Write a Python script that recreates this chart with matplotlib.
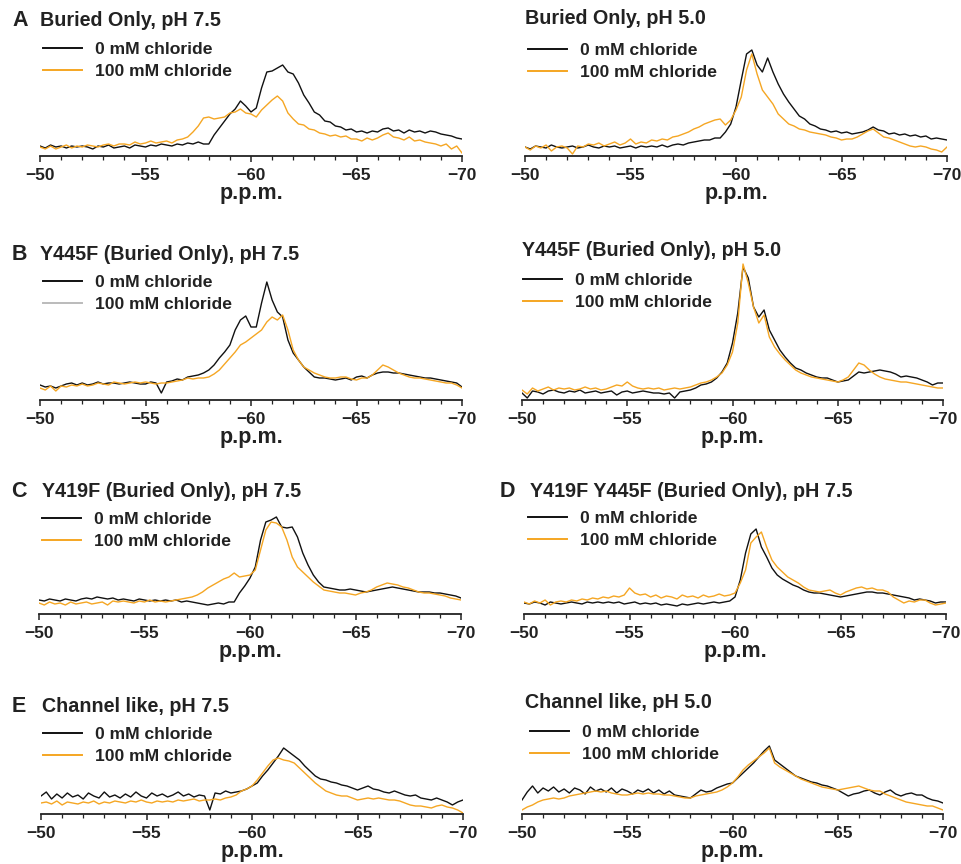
import numpy as np
import matplotlib
matplotlib.use("Agg")
import matplotlib.pyplot as plt
from matplotlib.lines import Line2D

plt.rcParams["font.family"] = ["Liberation Sans", "DejaVu Sans"]
plt.rcParams["font.weight"] = "bold"

# chemical shift grid (p.p.m.), 0.25 ppm steps from -50 to -70
ppm = np.linspace(-50, -70, 81)

# intensities (arbitrary units)
a75_0 = [10, 8, 11, 9, 10, 8, 10, 9,
         10, 9, 7, 10, 9, 11, 8, 9,
         10, 8, 11, 10, 9, 11, 10, 12,
         11, 10, 12, 11, 13, 12, 14, 12,
         12, 21, 28, 35, 42, 47, 55, 50,
         44, 48, 68, 84, 85, 88, 91, 84,
         82, 73, 61, 53, 44, 41, 35, 34,
         30, 29, 26, 27, 24, 25, 23, 25,
         24, 27, 28, 25, 26, 23, 26, 24,
         25, 23, 25, 24, 22, 21, 20, 18, 17]
a75_100 = [9, 7, 10, 7, 9, 11, 8, 10,
           9, 11, 10, 9, 11, 12, 10, 12,
           12, 11, 14, 12, 13, 15, 13, 14,
           15, 13, 16, 17, 19, 24, 30, 38,
           39, 37, 38, 39, 43, 44, 47, 43,
           42, 39, 46, 51, 56, 60, 55, 43,
           37, 32, 31, 27, 26, 23, 22, 20,
           21, 19, 20, 17, 17, 15, 18, 16,
           18, 21, 23, 19, 18, 16, 19, 15,
           16, 14, 13, 12, 10, 12, 7, 10, 3]

a50_0 = [9, 7, 10, 9, 8, 11, 9, 8,
         9, 10, 8, 9, 11, 9, 8, 10,
         9, 10, 8, 9, 10, 8, 10, 9,
         10, 9, 11, 9, 11, 12, 11, 13,
         14, 15, 16, 16, 18, 18, 24, 32,
         49, 76, 102, 106, 91, 84, 98, 84,
         72, 62, 54, 47, 40, 37, 32, 30,
         27, 26, 24, 25, 23, 24, 22, 23,
         24, 26, 29, 26, 25, 22, 23, 21,
         22, 20, 21, 19, 20, 17, 18, 17, 16]
a50_100 = [9, 6, 10, 8, 11, 5, 9, 10,
           8, 2, 10, 9, 12, 11, 13, 10,
           12, 14, 11, 13, 17, 12, 14, 13,
           16, 15, 17, 16, 19, 20, 22, 24,
           27, 29, 32, 34, 36, 37, 31, 36,
           46, 59, 86, 102, 82, 66, 59, 52,
           42, 37, 32, 30, 27, 26, 24, 23,
           22, 21, 19, 18, 16, 17, 17, 19,
           22, 25, 27, 23, 19, 18, 16, 14,
           12, 10, 9, 10, 9, 7, 6, 4, 9]

b75_0 = [15, 13, 14, 12, 14, 16, 17, 15,
         17, 15, 16, 18, 16, 17, 17, 16,
         17, 18, 17, 16, 16, 18, 17, 7,
         18, 19, 21, 20, 23, 24, 25, 27,
         30, 35, 42, 48, 55, 70, 80, 84,
         73, 73, 97, 118, 100, 88, 83, 60,
         47, 40, 33, 28, 23, 22, 22, 21,
         20, 21, 22, 20, 23, 24, 22, 25,
         27, 28, 28, 27, 27, 26, 25, 24,
         23, 22, 22, 21, 20, 19, 18, 17, 13]
b75_100 = [12, 10, 14, 9, 14, 13, 15, 14,
           16, 14, 15, 17, 16, 15, 18, 17,
           16, 17, 18, 17, 18, 17, 16, 17,
           17, 18, 19, 20, 22, 21, 22, 22,
           23, 26, 30, 36, 42, 48, 55, 58,
           62, 66, 70, 78, 83, 80, 85, 70,
           50, 40, 33, 30, 27, 25, 23, 22,
           22, 23, 23, 21, 20, 22, 22, 25,
           30, 35, 33, 30, 27, 25, 23, 22,
           22, 21, 20, 19, 18, 17, 17, 15, 12]

b50_0 = [7, 2, 9, 8, 6, 9, 10, 8,
         7, 9, 8, 10, 7, 8, 9, 7,
         8, 9, 5, 8, 9, 7, 8, 9,
         8, 7, 7, 6, 7, 2, 8, 9,
         10, 12, 15, 16, 18, 22, 28, 37,
         57, 87, 133, 122, 93, 83, 90, 70,
         60, 50, 43, 37, 32, 30, 27, 25,
         23, 22, 22, 20, 18, 19, 20, 24,
         28, 27, 28, 29, 30, 29, 28, 26,
         23, 24, 23, 22, 20, 18, 15, 17, 17]
b50_100 = [10, 6, 12, 9, 11, 13, 10, 12,
           11, 12, 10, 11, 13, 11, 12, 10,
           11, 13, 15, 14, 18, 14, 12, 11,
           12, 11, 12, 10, 11, 12, 11, 12,
           13, 15, 17, 18, 20, 23, 27, 35,
           48, 77, 136, 117, 93, 77, 85, 63,
           53, 46, 40, 35, 30, 27, 25, 23,
           22, 21, 20, 19, 18, 20, 23, 30,
           37, 35, 30, 26, 23, 21, 20, 19,
           18, 18, 17, 16, 15, 14, 13, 12, 12]

c75_0 = [14, 13, 15, 14, 13, 15, 14, 13,
         15, 16, 15, 17, 16, 15, 16, 14,
         15, 14, 13, 15, 14, 13, 14, 13,
         14, 13, 14, 12, 13, 12, 11, 10,
         9, 10, 11, 10, 12, 12, 21, 28,
         36, 47, 74, 92, 94, 97, 87, 86,
         87, 77, 61, 49, 39, 32, 27, 26,
         25, 24, 24, 25, 24, 23, 22, 23,
         24, 25, 26, 27, 26, 25, 24, 23,
         22, 22, 22, 21, 21, 20, 19, 18, 16]
c75_100 = [11, 9, 12, 10, 11, 9, 12, 10,
           11, 12, 10, 11, 12, 9, 13, 12,
           13, 12, 11, 13, 12, 14, 12, 13,
           12, 13, 14, 15, 16, 17, 19, 22,
           26, 29, 32, 35, 37, 41, 37, 38,
           39, 44, 64, 84, 92, 91, 87, 74,
           57, 47, 42, 37, 32, 28, 24, 23,
           22, 21, 21, 20, 19, 21, 22, 24,
           27, 29, 31, 30, 29, 27, 26, 24,
           22, 21, 21, 20, 19, 18, 16, 15, 14]

d75_0 = [11, 10, 12, 11, 9, 12, 11, 10,
         11, 12, 11, 10, 12, 11, 12, 11,
         12, 11, 12, 10, 11, 12, 10, 11,
         10, 11, 9, 10, 9, 8, 10, 9,
         10, 11, 10, 11, 12, 11, 12, 13,
         17, 34, 61, 80, 85, 67, 57, 46,
         39, 35, 32, 29, 27, 24, 22, 21,
         21, 20, 19, 18, 17, 18, 19, 20,
         21, 22, 22, 21, 21, 20, 19, 18,
         17, 16, 14, 15, 14, 13, 11, 12, 12]
d75_100 = [12, 10, 13, 11, 14, 9, 12, 13,
           12, 14, 13, 15, 14, 16, 15, 17,
           16, 18, 17, 19, 26, 21, 19, 20,
           17, 19, 16, 18, 17, 15, 19, 17,
           18, 16, 19, 17, 18, 20, 18, 19,
           21, 31, 44, 71, 77, 82, 67, 54,
           47, 42, 37, 34, 31, 27, 24, 23,
           22, 23, 24, 21, 19, 22, 24, 26,
           27, 25, 26, 24, 24, 22, 17, 14,
           11, 13, 12, 14, 14, 11, 9, 10, 11]

e75_0 = [18, 22, 15, 20, 16, 21, 17, 19,
         15, 21, 18, 16, 22, 17, 19, 16,
         20, 17, 22, 18, 16, 21, 18, 20,
         17, 19, 22, 18, 20, 17, 19, 18,
         4, 21, 20, 23, 21, 22, 23, 25,
         28, 31, 38, 44, 51, 58, 66, 62,
         58, 54, 48, 43, 38, 35, 34, 32,
         31, 29, 28, 26, 24, 26, 28, 25,
         24, 22, 21, 23, 21, 19, 18, 19,
         16, 15, 14, 16, 14, 12, 9, 12, 14]
e75_100 = [11, 12, 10, 13, 9, 12, 11, 10,
           12, 11, 13, 10, 12, 11, 13, 12,
           11, 13, 12, 14, 12, 11, 13, 12,
           13, 12, 14, 13, 14, 15, 13, 14,
           14, 15, 14, 16, 17, 19, 23, 25,
           28, 34, 41, 48, 54, 56, 54, 53,
           51, 46, 41, 36, 31, 27, 23, 21,
           19, 18, 18, 16, 14, 15, 16, 15,
           16, 15, 14, 14, 13, 11, 9, 8,
           8, 7, 6, 8, 9, 7, 6, 4, 1]

e50_0 = [14, 22, 28, 21, 26, 23, 27, 22,
         25, 21, 26, 24, 20, 27, 23, 25,
         22, 26, 21, 25, 23, 20, 24, 22,
         25, 21, 24, 20, 23, 19, 18, 17,
         16, 20, 24, 22, 23, 26, 28, 30,
         31, 36, 41, 46, 51, 57, 63, 68,
         54, 50, 46, 42, 38, 36, 34, 32,
         31, 29, 28, 26, 24, 21, 18, 20,
         21, 23, 24, 21, 19, 22, 24, 20,
         18, 20, 21, 19, 19, 16, 14, 13, 11]
e50_100 = [4, 7, 9, 12, 14, 15, 16, 15,
           16, 18, 19, 20, 21, 22, 23, 22,
           23, 21, 20, 19, 19, 20, 21, 20,
           21, 20, 20, 19, 19, 18, 17, 16,
           16, 18, 19, 20, 21, 22, 24, 27,
           31, 37, 44, 49, 53, 57, 61, 66,
           51, 47, 44, 41, 38, 35, 33, 31,
           29, 27, 26, 25, 24, 25, 26, 27,
           28, 26, 24, 23, 23, 20, 18, 16,
           14, 12, 11, 10, 9, 8, 8, 6, 4]

letters = ["A", "", "B", "", "C", "D", "E", ""]
titles = ["Buried Only, pH 7.5", "Buried Only, pH 5.0",
          "Y445F (Buried Only), pH 7.5", "Y445F (Buried Only), pH 5.0",
          "Y419F (Buried Only), pH 7.5", "Y419F Y445F (Buried Only), pH 7.5",
          "Channel like, pH 7.5", "Channel like, pH 5.0"]
series_0 = [a75_0, a50_0, b75_0, b50_0, c75_0, d75_0, e75_0, e50_0]
series_100 = [a75_100, a50_100, b75_100, b50_100, c75_100, d75_100, e75_100, e50_100]
legend_labels = ["0 mM chloride", "100 mM chloride"]

BLACK = "#111111"
ORANGE = "#F5A623"
TEXT = "#222222"

W, H = 961, 864
fig = plt.figure(figsize=(W / 100, H / 100), dpi=100)

# layout in pixels: axis x-range, axis line y, title y, legend x, legend first row y
layout = [
    dict(x0=40, x1=462, ya=156, ty=20, lx=43, ly=50, letx=12, tx=40),
    dict(x0=525, x1=947, ya=156, ty=18, lx=528, ly=51, letx=None, tx=525),
    dict(x0=40, x1=462, ya=400, ty=255, lx=43, ly=283, letx=12, tx=40),
    dict(x0=522, x1=943, ya=400, ty=251, lx=523, ly=281, letx=None, tx=522),
    dict(x0=39, x1=461, ya=614, ty=491, lx=42, ly=520, letx=11, tx=42),
    dict(x0=524, x1=946, ya=614, ty=491, lx=528, ly=519, letx=500, tx=530),
    dict(x0=41, x1=463, ya=814, ty=706, lx=43, ly=735, letx=12, tx=42),
    dict(x0=522, x1=943, ya=814, ty=703, lx=530, ly=733, letx=None, tx=525),
]

AX_H = 140
for k, lay in enumerate(layout):
    ax = fig.add_axes([lay["x0"] / W, (H - lay["ya"]) / H,
                       (lay["x1"] - lay["x0"]) / W, AX_H / H])
    ax.plot(ppm, series_0[k], color=BLACK, lw=1.0)
    ax.plot(ppm, series_100[k], color=ORANGE, lw=1.0)
    ax.set_xlim(-50, -70)
    ax.set_ylim(0, AX_H)
    for s in ["top", "left", "right"]:
        ax.spines[s].set_visible(False)
    ax.spines["bottom"].set_linewidth(1.3)
    ax.spines["bottom"].set_color(TEXT)
    ax.set_yticks([])
    ax.set_xticks([-50, -55, -60, -65, -70])
    ax.set_xticks(np.arange(-50, -71, -1), minor=True)
    ax.tick_params(axis="x", which="major", direction="out", length=4,
                   width=1.1, pad=5, labelsize=12.5, colors=TEXT)
    ax.tick_params(axis="x", which="minor", direction="out", length=3,
                   width=0.9, colors=TEXT)
    ax.set_xlabel("p.p.m.", fontsize=15.5, fontweight="bold", labelpad=0,
                  color=TEXT)
    ax.patch.set_alpha(0)

    # legend (panel B left shows a grey handle for 100 mM in the source)
    second = "#BBBBBB" if k == 2 else ORANGE
    handles = [Line2D([], [], color=BLACK, lw=1.4),
               Line2D([], [], color=second, lw=1.4)]
    ax.legend(handles, legend_labels, loc="upper left",
              bbox_to_anchor=(lay["lx"] / W, (H - lay["ly"] + 8) / H),
              bbox_transform=fig.transFigure, frameon=False,
              prop=dict(size=12.6, weight="bold"), handlelength=2.2,
              handletextpad=0.75, labelspacing=0.38, borderpad=0,
              borderaxespad=0, labelcolor=TEXT)

    if lay["letx"] is not None:
        fig.text(lay["letx"] / W, 1 - lay["ty"] / H, letters[k], fontsize=15.5,
                 fontweight="bold", va="center", ha="left", color=TEXT)
    fig.text(lay["tx"] / W, 1 - lay["ty"] / H, titles[k], fontsize=14.2,
             fontweight="bold", va="center", ha="left", color=TEXT)

fig.savefig("out.png", dpi=100)
